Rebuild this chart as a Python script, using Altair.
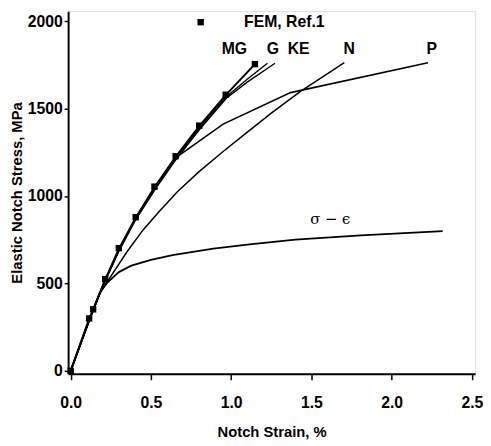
import altair as alt
import pandas as pd

# ---- data ----
fem_x = [0.0, 0.115, 0.14, 0.215, 0.3, 0.405, 0.522, 0.654, 0.801, 0.966, 1.148]
fem_y = [0, 300, 352, 525, 702, 879, 1054, 1228, 1403, 1580, 1755]

mg_x = [0.0, 0.115, 0.14, 0.215, 0.3, 0.405, 0.522, 0.654, 0.801, 0.966, 1.148]
mg_y = [0, 298, 350, 522, 698, 874, 1050, 1224, 1400, 1578, 1755]

g_x = [0.0, 0.12, 0.2, 0.3, 0.4, 0.52, 0.65, 0.8, 0.97, 1.1, 1.226]
g_y = [0, 300, 485, 688, 862, 1038, 1212, 1388, 1568, 1668, 1760]

ke_x = [0.0, 0.12, 0.2, 0.3, 0.4, 0.52, 0.65, 0.8, 0.97, 1.1, 1.273]
ke_y = [0, 300, 483, 684, 856, 1030, 1202, 1378, 1560, 1652, 1760]

n_x = [0.0, 0.12, 0.18, 0.25, 0.35, 0.45, 0.55, 0.665, 0.8, 0.95, 1.093, 1.25, 1.43, 1.705]
n_y = [0, 300, 440, 540, 680, 805, 910, 1025, 1140, 1255, 1360, 1475, 1598, 1763]

p_x = [0.0, 0.12, 0.2, 0.3, 0.4, 0.52, 0.665, 0.95, 1.37, 2.226]
p_y = [0, 300, 490, 690, 866, 1042, 1226, 1412, 1592, 1763]

se_x = [0.0, 0.12, 0.18, 0.225, 0.3, 0.378, 0.5, 0.634, 0.889, 1.1, 1.4, 1.808, 2.318]
se_y = [0, 300, 445, 502, 565, 602, 635, 662, 700, 722, 751, 775, 800]

label_text = ["MG", "G", "KE", "N", "P"]
label_x = [1.02, 1.26, 1.42, 1.735, 2.25]
label_y = [1840, 1840, 1840, 1840, 1840]

x_ticks = [0.0, 0.5, 1.0, 1.5, 2.0, 2.5]
y_ticks = [0, 500, 1000, 1500, 2000]

# ---- build tables ----
rows = []
for name, xs, ys, w in [("MG", mg_x, mg_y, 2.0), ("G", g_x, g_y, 1.4), ("KE", ke_x, ke_y, 1.4),
                        ("N", n_x, n_y, 1.5), ("P", p_x, p_y, 1.6), ("se", se_x, se_y, 1.8)]:
    for i, (a, b) in enumerate(zip(xs, ys)):
        rows.append({"curve": name, "i": i, "x": a, "y": b, "w": w})
lines_df = pd.DataFrame(rows)
fem_df = pd.DataFrame({"x": fem_x, "y": fem_y})
lab_df = pd.DataFrame({"t": label_text, "x": label_x, "y": label_y})

xs = alt.Scale(domain=[-0.016, 2.52], nice=False, zero=False)
ys = alt.Scale(domain=[-17, 2058], nice=False, zero=False)

FONT = "Liberation Sans"

xaxis = alt.Axis(values=x_ticks, format=".1f", title="Notch Strain, %", grid=False,
                 domainColor="black", domainWidth=2, tickColor="black", tickWidth=1.5,
                 tickSize=6, labelPadding=15, labelFont=FONT, labelFontSize=16,
                 labelFontWeight="bold", labelColor="black", titleFont=FONT,
                 titleFontSize=15, titleFontWeight="bold", titleColor="black",
                 titlePadding=15)
yaxis = alt.Axis(values=y_ticks, format="d", title="Elastic Notch Stress, MPa", grid=False,
                 domainColor="black", domainWidth=2, tickColor="black", tickWidth=1.5,
                 tickSize=4, labelPadding=2, labelFont=FONT, labelFontSize=16,
                 labelFontWeight="bold", labelColor="black", titleFont=FONT,
                 titleFontSize=15, titleFontWeight="bold", titleColor="black",
                 titlePadding=3)

lines = alt.Chart(lines_df).mark_line(color="black").encode(
    x=alt.X("x:Q", scale=xs, axis=xaxis),
    y=alt.Y("y:Q", scale=ys, axis=yaxis),
    detail="curve:N",
    order="i:Q",
    strokeWidth=alt.StrokeWidth("w:Q", scale=None, legend=None),
)

pts = alt.Chart(fem_df).mark_square(color="black", size=42, opacity=1).encode(
    x=alt.X("x:Q", scale=xs), y=alt.Y("y:Q", scale=ys)
)

labels = alt.Chart(lab_df).mark_text(font=FONT, fontSize=16, fontWeight="bold",
                                     color="black", align="center", baseline="middle").encode(
    x=alt.X("x:Q", scale=xs), y=alt.Y("y:Q", scale=ys), text="t:N"
)

leg_df = pd.DataFrame({"x": [0.81], "y": [1995]})
leg_pt = alt.Chart(leg_df).mark_square(color="black", size=42, opacity=1).encode(
    x=alt.X("x:Q", scale=xs), y=alt.Y("y:Q", scale=ys)
)
leg_txt_df = pd.DataFrame({"x": [1.08], "y": [1995], "t": ["FEM, Ref.1"]})
leg_txt = alt.Chart(leg_txt_df).mark_text(font=FONT, fontSize=16, fontWeight="bold",
                                          color="black", align="left", baseline="middle").encode(
    x=alt.X("x:Q", scale=xs), y=alt.Y("y:Q", scale=ys), text="t:N"
)
se_df = pd.DataFrame({"x": [1.617], "y": [866], "t": ["σ − ϵ"]})
se_txt = alt.Chart(se_df).mark_text(font="DejaVu Serif", fontSize=15, color="black",
                                    align="center", baseline="middle").encode(
    x=alt.X("x:Q", scale=xs), y=alt.Y("y:Q", scale=ys), text="t:N"
)

chart = alt.layer(lines, pts, labels, leg_pt, leg_txt, se_txt).properties(
    width=413, height=368,
    autosize=alt.AutoSizeParams(type="none"),
    padding={"left": 61, "top": 0, "right": 8, "bottom": 68},
).configure_view(stroke=None).configure(background="white")

chart.save("out.html", embed_options={"renderer": "svg", "actions": False})
